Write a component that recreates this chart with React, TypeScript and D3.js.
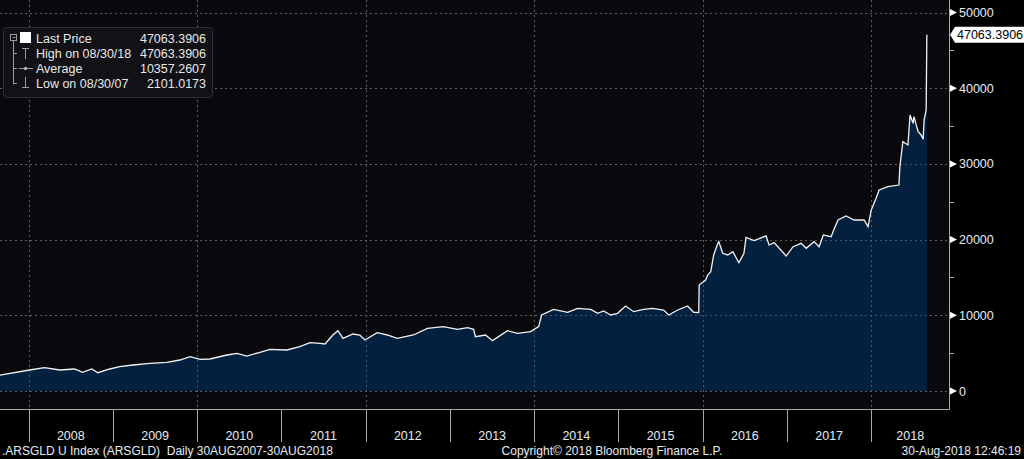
import React, { useEffect, useRef } from 'react'
import * as d3 from 'd3';

const dates: string[] = [
    "2007-08-30", "2008-01-05", "2008-03-10", "2008-05-15", "2008-07-18", "2008-08-22", "2008-10-01", "2008-10-27",
    "2008-12-18", "2009-01-30", "2009-03-28", "2009-06-10", "2009-08-22", "2009-10-18", "2009-12-01", "2010-01-13",
    "2010-02-25", "2010-05-10", "2010-06-22", "2010-08-04", "2010-09-30", "2010-11-12", "2011-01-25", "2011-03-22",
    "2011-05-05", "2011-06-17", "2011-07-09", "2011-08-12", "2011-09-03", "2011-09-25", "2011-11-07", "2011-12-07",
    "2011-12-29", "2012-02-20", "2012-04-04", "2012-05-17", "2012-07-26", "2012-09-25", "2012-12-03", "2013-02-02",
    "2013-03-18", "2013-04-13", "2013-04-21", "2013-06-04", "2013-07-04", "2013-09-07", "2013-10-21", "2013-12-16",
    "2014-01-20", "2014-02-02", "2014-03-26", "2014-05-26", "2014-07-08", "2014-09-03", "2014-10-03", "2014-10-29",
    "2014-11-28", "2014-12-28", "2015-02-01", "2015-03-08", "2015-04-20", "2015-05-29", "2015-07-16", "2015-08-07",
    "2015-09-15", "2015-10-28", "2015-11-23", "2015-12-15", "2015-12-17", "2016-01-14", "2016-01-23", "2016-02-05",
    "2016-02-18", "2016-03-07", "2016-03-11", "2016-03-28", "2016-04-19", "2016-05-11", "2016-06-06", "2016-06-28",
    "2016-07-07", "2016-08-11", "2016-10-02", "2016-10-15", "2016-11-06", "2016-12-28", "2017-01-27", "2017-03-03",
    "2017-03-25", "2017-04-28", "2017-05-20", "2017-06-07", "2017-07-11", "2017-07-24", "2017-08-10", "2017-09-14",
    "2017-10-19", "2017-12-01", "2017-12-18", "2018-01-01", "2018-01-22", "2018-02-04", "2018-03-14", "2018-05-01",
    "2018-05-05", "2018-05-18", "2018-06-09", "2018-06-18", "2018-07-01", "2018-07-05", "2018-07-23", "2018-08-05",
    "2018-08-14", "2018-08-18", "2018-08-27", "2018-08-30"
]

const prices: number[] = [
    2101, 2774, 3080, 2774, 2906, 2470, 2906, 2420,
    2906, 3210, 3434, 3655, 3787, 4095, 4530, 4183,
    4227, 4755, 4975, 4623, 5108, 5505, 5416, 5857,
    6384, 6296, 6208, 7398, 7968, 6960, 7530, 7398,
    6737, 7705, 7398, 6960, 7398, 8280, 8500, 8148,
    8368, 8148, 7177, 7398, 6650, 7968, 7618, 7837,
    8500, 10040, 10790, 10400, 10920, 10790, 10260, 10570,
    10040, 10260, 11230, 10480, 10790, 10920, 10700, 10040,
    10700, 11230, 10400, 10350, 14000, 14660, 15320, 15760,
    17970, 19510, 19730, 18190, 17970, 18400, 16950, 18190,
    20300, 19860, 20480, 19290, 19600, 17830, 19060, 19510,
    18850, 19730, 19060, 20610, 20390, 21400, 22590, 23120,
    22590, 22590, 21710, 23910, 25450, 26550, 26990, 27210,
    29630, 32930, 32500, 36460, 35360, 36240, 34250, 33820,
    33250, 35800, 37120, 47063.3906
]

const yTicks: number[] = [0, 10000, 20000, 30000, 40000, 50000]
const yearLabels: string[] = ["2008", "2009", "2010", "2011", "2012", "2013", "2014", "2015", "2016", "2017", "2018"]

const legendRows = [
    { label: "Last Price", value: "47063.3906" },
    { label: "High on 08/30/18", value: "47063.3906" },
    { label: "Average", value: "10357.2607" },
    { label: "Low on 08/30/07", value: "2101.0173" },
]

const W = 1024
const H = 459
const plotRight = 949
const plotBottom = 409
const font = "'Liberation Sans', Arial, sans-serif"

const App = () => {
    const ref = useRef<SVGSVGElement>(null)

    useEffect(() => {
        const svg = d3.select(ref.current)
        svg.selectAll("*").remove()

        const parse = d3.timeParse("%Y-%m-%d")
        const data = dates.map((d, i) => ({ date: parse(d) as Date, value: prices[i] }))

        const x = d3.scaleTime()
            .domain([parse("2007-08-30") as Date, parse("2018-12-04") as Date])
            .range([0, plotRight])
        const y = d3.scaleLinear().domain([0, 50000]).range([391, 12.5])

        svg.append("rect").attr("width", W).attr("height", H).attr("fill", "#000")
        svg.append("rect").attr("width", plotRight).attr("height", plotBottom).attr("fill", "#0a0a0e")

        const yearStarts = yearLabels.map(yr => new Date(+yr, 0, 1))
        const px = (v: number) => Math.round(v) + 0.5

        // grid
        const grid = svg.append("g").attr("stroke", "#5a5f66").attr("stroke-dasharray", "2,3").attr("stroke-width", 1)
        yTicks.forEach(t => {
            grid.append("line").attr("x1", 0).attr("x2", plotRight).attr("y1", px(y(t))).attr("y2", px(y(t)))
        })
        yearStarts.filter((_, i) => i % 2 === 0).forEach(d => {
            grid.append("line").attr("x1", px(x(d))).attr("x2", px(x(d))).attr("y1", 0).attr("y2", plotBottom)
        })

        const area = d3.area<{ date: Date, value: number }>()
            .x(d => x(d.date)).y0(y(0)).y1(d => y(d.value))
        svg.append("path").datum(data).attr("d", area).attr("fill", "#04203f")

        // grid lines show faintly through the area
        const clip = svg.append("clipPath").attr("id", "areaClip")
        clip.append("path").datum(data).attr("d", area)
        const grid2 = svg.append("g").attr("clip-path", "url(#areaClip)")
            .attr("stroke", "#3d5878").attr("stroke-dasharray", "2,3").attr("stroke-width", 1)
        yTicks.forEach(t => {
            grid2.append("line").attr("x1", 0).attr("x2", plotRight).attr("y1", px(y(t))).attr("y2", px(y(t)))
        })
        yearStarts.filter((_, i) => i % 2 === 0).forEach(d => {
            grid2.append("line").attr("x1", px(x(d))).attr("x2", px(x(d))).attr("y1", 0).attr("y2", plotBottom)
        })

        const line = d3.line<{ date: Date, value: number }>().x(d => x(d.date)).y(d => y(d.value))
        svg.append("path").datum(data).attr("d", line).attr("fill", "none").attr("stroke", "#f2f2f2").attr("stroke-width", 1.3)

        // axes frame
        svg.append("line").attr("x1", plotRight + 0.5).attr("x2", plotRight + 0.5).attr("y1", 0).attr("y2", plotBottom + 0.5).attr("stroke", "#a8a8a8")
        svg.append("line").attr("x1", 0).attr("x2", plotRight + 0.5).attr("y1", plotBottom + 0.5).attr("y2", plotBottom + 0.5).attr("stroke", "#a8a8a8")

        // right axis ticks
        yTicks.forEach(t => {
            const yy = y(t)
            svg.append("path").attr("d", `M${plotRight + 1},${yy - 3.5}L${plotRight + 8},${yy}L${plotRight + 1},${yy + 3.5}Z`).attr("fill", "#fff")
            svg.append("text").attr("x", plotRight + 10).attr("y", yy + 4.5).text(t)
                .attr("fill", "#e4ecf4").attr("font-size", 12.5).attr("font-family", font)
        })
        d3.range(5000, 50000, 10000).forEach(t => {
            svg.append("line").attr("x1", plotRight).attr("x2", plotRight + 5).attr("y1", px(y(t))).attr("y2", px(y(t))).attr("stroke", "#a8a8a8")
        })

        // last price tag
        const last = data[data.length - 1]
        const ly = y(last.value)
        svg.append("path").attr("d", `M${plotRight + 1},${ly}L${plotRight + 6},${ly - 8}L${W},${ly - 8}L${W},${ly + 8}L${plotRight + 6},${ly + 8}Z`).attr("fill", "#fff")
        svg.append("text").attr("x", plotRight + 8).attr("y", ly + 4.5).text(legendRows[0].value)
            .attr("fill", "#000").attr("font-size", 12.5).attr("font-family", font)

        // bottom axis
        yearStarts.forEach(d => {
            svg.append("line").attr("x1", px(x(d))).attr("x2", px(x(d))).attr("y1", plotBottom).attr("y2", 442).attr("stroke", "#a8a8a8")
        })
        yearLabels.forEach((yr, i) => {
            const a = x(yearStarts[i])
            const b = i < yearLabels.length - 1 ? x(yearStarts[i + 1]) : x(new Date(+yr + 1, 0, 1))
            const cx = i < yearLabels.length - 1 ? (a + b) / 2 : a + 39
            svg.append("text").attr("x", cx).attr("y", 440).attr("text-anchor", "middle").text(yr)
                .attr("fill", "#e4ecf4").attr("font-size", 12.5).attr("font-family", font)
        })

        // footer
        const foot = svg.append("g").attr("fill", "#e4ecf4").attr("font-size", 12).attr("font-family", font)
        foot.append("text").attr("x", 2).attr("y", 455).text(".ARSGLD U Index (ARSGLD)  Daily 30AUG2007-30AUG2018").attr("xml:space", "preserve")
        foot.append("text").attr("x", 612).attr("y", 455).attr("text-anchor", "middle").text("Copyright\u00a9 2018 Bloomberg Finance L.P.")
        foot.append("text").attr("x", 1021).attr("y", 455).attr("text-anchor", "end").text("30-Aug-2018 12:46:19")

        // legend
        const lg = svg.append("g")
        lg.append("rect").attr("x", 3.5).attr("y", 27.5).attr("width", 209).attr("height", 70).attr("rx", 3)
            .attr("fill", "#111116").attr("stroke", "#2c2c33")
        const rowY = [38, 53, 68, 83]
        const ic = lg.append("g").attr("stroke", "#9a9a9a").attr("fill", "none").attr("stroke-width", 1)
        ic.append("rect").attr("x", 10.5).attr("y", 34.5).attr("width", 6).attr("height", 6)
        ic.append("line").attr("x1", 12.5).attr("x2", 15.5).attr("y1", 37.5).attr("y2", 37.5)
        ic.append("line").attr("x1", 13.5).attr("x2", 13.5).attr("y1", 41).attr("y2", 84.5)
        ;[53, 68, 83].forEach(r => ic.append("line").attr("x1", 13.5).attr("x2", 17).attr("y1", r + 0.5).attr("y2", r + 0.5))
        lg.append("rect").attr("x", 20).attr("y", 32).attr("width", 11).attr("height", 11).attr("fill", "#fff")
        // high icon
        ic.append("line").attr("x1", 25.5).attr("x2", 25.5).attr("y1", 48).attr("y2", 59)
        ic.append("line").attr("x1", 22).attr("x2", 29).attr("y1", 48.5).attr("y2", 48.5)
        // average icon
        ic.append("line").attr("x1", 19).attr("x2", 33).attr("y1", 68.5).attr("y2", 68.5)
        lg.append("circle").attr("cx", 25.5).attr("cy", 68.5).attr("r", 1.8).attr("fill", "#b0b0b0")
        // low icon
        ic.append("line").attr("x1", 25.5).attr("x2", 25.5).attr("y1", 77).attr("y2", 88)
        ic.append("line").attr("x1", 22).attr("x2", 29).attr("y1", 87.5).attr("y2", 87.5)

        legendRows.forEach((r, i) => {
            lg.append("text").attr("x", 36).attr("y", rowY[i] + 5).text(r.label)
                .attr("fill", "#e8e8e8").attr("font-size", 12.5).attr("font-family", font)
            lg.append("text").attr("x", 206).attr("y", rowY[i] + 5).attr("text-anchor", "end").text(r.value)
                .attr("fill", "#e8e8e8").attr("font-size", 12.5).attr("font-family", font)
        })
    }, [])

    return (
        <svg ref={ref} width={W} height={H} style={{ position: 'absolute', left: 0, top: 0, display: 'block' }}></svg>
    )
}

export default App
